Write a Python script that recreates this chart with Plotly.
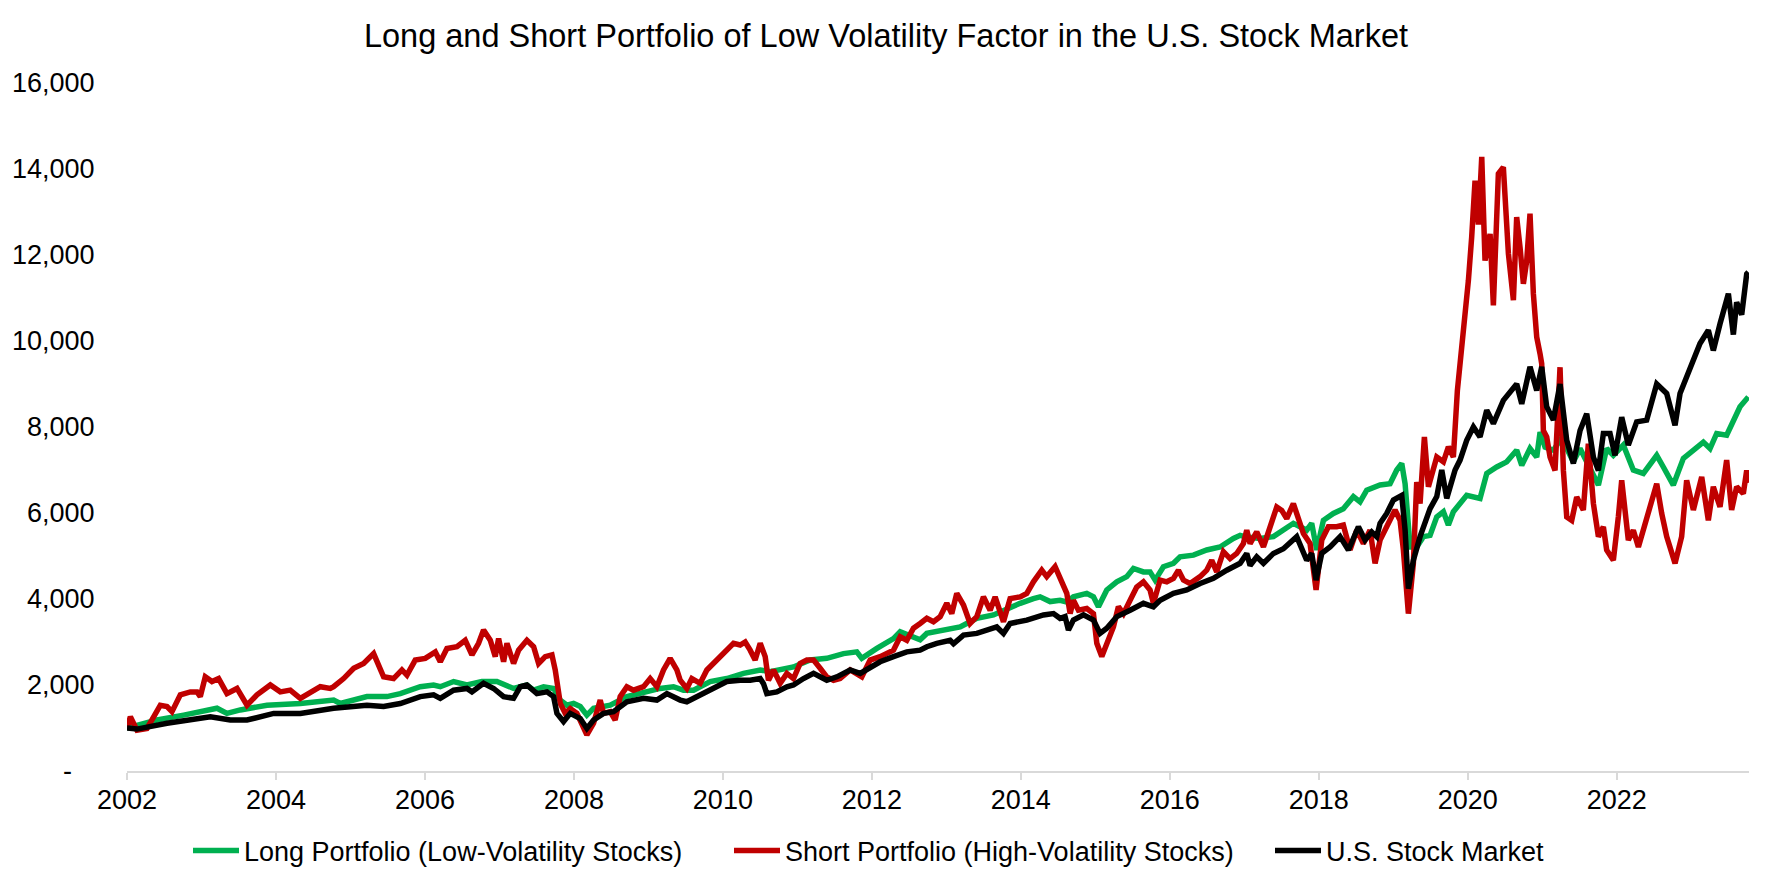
import plotly.graph_objects as go

# ---- data (x in decimal years, values of $1,000 invested) ----
long_x = [2002.000, 2002.403, 2002.761, 2003.208, 2003.342, 2003.521, 2003.879, 2004.327, 2004.774, 2004.864,
          2005.221, 2005.490, 2005.669, 2005.937, 2006.116, 2006.206, 2006.385, 2006.564, 2006.765, 2006.966,
          2007.190, 2007.369, 2007.459, 2007.593, 2007.727, 2007.817, 2007.906, 2007.996, 2008.085, 2008.174,
          2008.264, 2008.487, 2008.711, 2008.935, 2009.158, 2009.337, 2009.471, 2009.606, 2009.829, 2010.053,
          2010.277, 2010.501, 2010.635, 2010.948, 2011.172, 2011.395, 2011.619, 2011.798, 2011.865, 2012.067,
          2012.290, 2012.380, 2012.559, 2012.648, 2012.738, 2012.961, 2013.185, 2013.274, 2013.409, 2013.633,
          2013.722, 2013.856, 2013.991, 2014.169, 2014.259, 2014.393, 2014.527, 2014.617, 2014.706, 2014.885,
          2014.975, 2015.042, 2015.154, 2015.288, 2015.422, 2015.512, 2015.646, 2015.735, 2015.803, 2015.914,
          2016.049, 2016.138, 2016.317, 2016.496, 2016.675, 2016.854, 2016.944, 2017.033, 2017.212, 2017.391,
          2017.570, 2017.659, 2017.749, 2017.838, 2017.905, 2017.973, 2018.062, 2018.196, 2018.330, 2018.465,
          2018.554, 2018.644, 2018.823, 2018.957, 2019.047, 2019.114, 2019.159, 2019.226, 2019.315, 2019.405,
          2019.494, 2019.584, 2019.673, 2019.740, 2019.807, 2019.986, 2020.165, 2020.255, 2020.389, 2020.523,
          2020.657, 2020.725, 2020.836, 2020.926, 2020.971, 2021.038, 2021.150, 2021.239, 2021.329, 2021.418,
          2021.508, 2021.642, 2021.754, 2021.865, 2021.955, 2022.089, 2022.223, 2022.358, 2022.537, 2022.626,
          2022.760, 2022.895, 2023.029, 2023.163, 2023.253, 2023.342, 2023.476, 2023.566, 2023.655, 2023.767]
long_y = [1000, 1185, 1300, 1460, 1340, 1420, 1530, 1570, 1650, 1570,
          1730, 1730, 1800, 1960, 2000, 1960, 2080, 2000, 2080, 2080,
          1920, 2000, 1880, 1960, 1920, 1650, 1530, 1570, 1500, 1300,
          1460, 1530, 1730, 1840, 1920, 1960, 1880, 1880, 2080, 2150,
          2270, 2350, 2310, 2420, 2580, 2620, 2730, 2770, 2620, 2850,
          3080, 3240, 3120, 3050, 3200, 3280, 3350, 3430, 3550, 3630,
          3700, 3820, 3900, 4010, 4050, 3940, 3970, 3930, 4050, 4130,
          4050, 3820, 4210, 4400, 4520, 4710, 4630, 4630, 4440, 4750,
          4830, 4980, 5020, 5140, 5210, 5410, 5480, 5440, 5410, 5450,
          5640, 5760, 5680, 5600, 5760, 5140, 5830, 5990, 6100, 6380,
          6260, 6530, 6650, 6680, 7000, 7150, 6680, 5210, 5210, 5450,
          5480, 5910, 6030, 5720, 6030, 6410, 6340, 6920, 7070, 7190,
          7460, 7110, 7500, 7300, 7880, 7530, 7460, 7690, 7500, 7190,
          7500, 7000, 6650, 7500, 7340, 7580, 7000, 6920, 7340, 7070,
          6650, 7270, 7460, 7650, 7500, 7850, 7810, 8160, 8470, 8700]

short_x = [2002.000, 2002.045, 2002.134, 2002.268, 2002.358, 2002.447, 2002.537, 2002.604, 2002.716, 2002.850,
           2002.940, 2002.984, 2003.051, 2003.141, 2003.230, 2003.342, 2003.477, 2003.611, 2003.745, 2003.924,
           2004.058, 2004.192, 2004.327, 2004.461, 2004.595, 2004.729, 2004.774, 2004.908, 2005.043, 2005.177,
           2005.311, 2005.445, 2005.579, 2005.691, 2005.758, 2005.870, 2006.004, 2006.139, 2006.206, 2006.295,
           2006.430, 2006.541, 2006.631, 2006.720, 2006.787, 2006.877, 2006.944, 2006.989, 2007.056, 2007.101,
           2007.190, 2007.257, 2007.369, 2007.459, 2007.526, 2007.615, 2007.705, 2007.749, 2007.817, 2007.884,
           2007.951, 2008.040, 2008.130, 2008.174, 2008.264, 2008.353, 2008.398, 2008.487, 2008.554, 2008.621,
           2008.711, 2008.800, 2008.935, 2009.024, 2009.114, 2009.203, 2009.292, 2009.382, 2009.427, 2009.516,
           2009.583, 2009.695, 2009.785, 2009.919, 2010.053, 2010.143, 2010.232, 2010.299, 2010.366, 2010.433,
           2010.501, 2010.568, 2010.612, 2010.680, 2010.769, 2010.859, 2010.948, 2011.037, 2011.127, 2011.217,
           2011.306, 2011.395, 2011.485, 2011.574, 2011.709, 2011.798, 2011.865, 2011.977, 2012.111, 2012.290,
           2012.380, 2012.469, 2012.559, 2012.648, 2012.738, 2012.827, 2012.917, 2013.006, 2013.073, 2013.140,
           2013.230, 2013.319, 2013.409, 2013.498, 2013.588, 2013.655, 2013.767, 2013.856, 2013.991, 2014.080,
           2014.169, 2014.281, 2014.348, 2014.460, 2014.527, 2014.617, 2014.662, 2014.706, 2014.773, 2014.885,
           2014.975, 2015.020, 2015.087, 2015.154, 2015.243, 2015.310, 2015.378, 2015.467, 2015.556, 2015.646,
           2015.735, 2015.780, 2015.870, 2015.959, 2016.049, 2016.116, 2016.183, 2016.272, 2016.407, 2016.496,
           2016.563, 2016.630, 2016.720, 2016.809, 2016.899, 2016.988, 2017.033, 2017.078, 2017.167, 2017.257,
           2017.346, 2017.436, 2017.503, 2017.570, 2017.659, 2017.726, 2017.794, 2017.883, 2017.964, 2018.040,
           2018.129, 2018.241, 2018.330, 2018.420, 2018.510, 2018.599, 2018.688, 2018.756, 2018.823, 2018.935,
           2019.024, 2019.091, 2019.136, 2019.203, 2019.270, 2019.315, 2019.360, 2019.418, 2019.472, 2019.584,
           2019.673, 2019.740, 2019.807, 2019.861, 2019.897, 2019.942, 2020.009, 2020.053, 2020.098, 2020.143,
           2020.188, 2020.232, 2020.300, 2020.344, 2020.411, 2020.478, 2020.546, 2020.613, 2020.657, 2020.702,
           2020.747, 2020.792, 2020.836, 2020.881, 2020.926, 2020.971, 2020.993, 2021.015, 2021.060, 2021.105,
           2021.172, 2021.239, 2021.284, 2021.329, 2021.396, 2021.463, 2021.552, 2021.619, 2021.687, 2021.754,
           2021.821, 2021.865, 2021.955, 2022.022, 2022.067, 2022.156, 2022.223, 2022.291, 2022.380, 2022.447,
           2022.537, 2022.604, 2022.671, 2022.783, 2022.872, 2022.939, 2023.029, 2023.141, 2023.230, 2023.297,
           2023.387, 2023.476, 2023.543, 2023.610, 2023.700, 2023.745, 2023.767]
short_y = [1000, 1260, 950, 990, 1260, 1530, 1500, 1380, 1770, 1840,
           1840, 1730, 2190, 2080, 2150, 1800, 1920, 1530, 1770, 2000,
           1840, 1880, 1690, 1840, 1960, 1920, 1960, 2150, 2390, 2500,
           2730, 2190, 2150, 2350, 2230, 2580, 2620, 2770, 2540, 2850,
           2890, 3040, 2700, 2970, 3280, 3040, 2660, 3080, 2540, 2970,
           2500, 2810, 3040, 2890, 2500, 2660, 2700, 2350, 1570, 1340,
           1450, 1340, 950, 840, 1110, 1650, 1340, 1380, 1185, 1730,
           1960, 1880, 1960, 2150, 1960, 2350, 2620, 2350, 2110, 1920,
           2150, 2040, 2350, 2580, 2810, 2970, 2930, 3000, 2810, 2580,
           2970, 2660, 2110, 2350, 2040, 2270, 2150, 2500, 2580, 2580,
           2390, 2190, 2110, 2150, 2350, 2270, 2190, 2580, 2660, 2810,
           3120, 3040, 3320, 3430, 3550, 3470, 3590, 3900, 3660, 4130,
           3860, 3430, 3590, 4050, 3740, 4050, 3470, 4010, 4050, 4130,
           4400, 4670, 4520, 4750, 4480, 4130, 3660, 3970, 3740, 3780,
           3660, 2970, 2660, 2970, 3350, 3820, 3660, 3970, 4280, 4400,
           4210, 3900, 4440, 4400, 4480, 4670, 4440, 4360, 4520, 4670,
           4900, 4630, 5100, 4940, 5060, 5290, 5600, 5290, 5560, 5210,
           5680, 6140, 6060, 5870, 6220, 5830, 5520, 5290, 4210, 5370,
           5680, 5680, 5720, 5140, 5600, 5290, 5600, 4830, 5370, 5760,
           6070, 5830, 5140, 3660, 4830, 6720, 6220, 7770, 6610, 7300,
           7190, 7540, 7300, 8850, 9470, 10020, 11410, 12420, 13730, 12710,
           14280, 11870, 12490, 10830, 13890, 14040, 12030, 10950, 12880, 12180,
           11330, 11870, 12960, 11100, 10090, 9700, 9470, 7920, 7770, 7300,
           6990, 9390, 6990, 5910, 5830, 6370, 6070, 7610, 6220, 5450,
           5680, 5140, 4900, 5910, 6760, 5370, 5600, 5210, 5760, 6220,
           6680, 5990, 5450, 4830, 5450, 6760, 6070, 6840, 5830, 6610,
           6140, 7230, 6070, 6610, 6450, 6990, 6700]

mkt_x = [2002.000, 2002.134, 2002.537, 2002.984, 2003.119, 2003.387, 2003.611, 2003.969, 2004.327, 2004.774,
         2005.221, 2005.445, 2005.669, 2005.937, 2006.116, 2006.206, 2006.385, 2006.564, 2006.631, 2006.787,
         2006.922, 2007.056, 2007.190, 2007.280, 2007.369, 2007.503, 2007.638, 2007.727, 2007.772, 2007.861,
         2007.951, 2008.085, 2008.174, 2008.264, 2008.398, 2008.532, 2008.711, 2008.935, 2009.114, 2009.248,
         2009.337, 2009.427, 2009.516, 2009.650, 2009.829, 2010.053, 2010.232, 2010.366, 2010.501, 2010.545,
         2010.590, 2010.724, 2010.859, 2010.948, 2011.082, 2011.217, 2011.351, 2011.395, 2011.530, 2011.709,
         2011.843, 2011.977, 2012.111, 2012.290, 2012.469, 2012.648, 2012.738, 2012.872, 2013.051, 2013.096,
         2013.230, 2013.409, 2013.588, 2013.677, 2013.767, 2013.856, 2014.080, 2014.304, 2014.438, 2014.527,
         2014.594, 2014.639, 2014.706, 2014.841, 2014.975, 2015.064, 2015.154, 2015.288, 2015.467, 2015.646,
         2015.780, 2015.870, 2016.049, 2016.228, 2016.407, 2016.586, 2016.765, 2016.944, 2017.033, 2017.078,
         2017.167, 2017.257, 2017.391, 2017.525, 2017.704, 2017.771, 2017.838, 2017.905, 2017.964, 2018.040,
         2018.152, 2018.286, 2018.398, 2018.532, 2018.621, 2018.711, 2018.778, 2018.823, 2018.912, 2019.002,
         2019.114, 2019.159, 2019.203, 2019.270, 2019.360, 2019.494, 2019.584, 2019.651, 2019.718, 2019.830,
         2019.897, 2019.986, 2020.076, 2020.165, 2020.255, 2020.344, 2020.478, 2020.657, 2020.725, 2020.836,
         2020.926, 2020.993, 2021.060, 2021.150, 2021.239, 2021.329, 2021.418, 2021.508, 2021.597, 2021.687,
         2021.754, 2021.821, 2021.910, 2021.977, 2022.067, 2022.156, 2022.268, 2022.402, 2022.537, 2022.671,
         2022.783, 2022.850, 2022.984, 2023.118, 2023.230, 2023.275, 2023.297, 2023.387, 2023.499, 2023.566,
         2023.610, 2023.678, 2023.745, 2023.767]
mkt_y = [1000, 975, 1110, 1220, 1260, 1185, 1185, 1340, 1340, 1460,
         1530, 1500, 1570, 1730, 1770, 1690, 1880, 1920, 1840, 2040,
         1920, 1730, 1690, 1960, 2000, 1800, 1840, 1730, 1340, 1150,
         1340, 1220, 990, 1185, 1340, 1380, 1610, 1690, 1650, 1800,
         1720, 1650, 1610, 1730, 1880, 2080, 2110, 2110, 2150, 2030,
         1800, 1840, 1960, 2000, 2150, 2270, 2150, 2110, 2190, 2350,
         2270, 2420, 2540, 2660, 2770, 2810, 2890, 2970, 3040, 2960,
         3160, 3200, 3280, 3350, 3200, 3430, 3510, 3630, 3660, 3550,
         3590, 3280, 3510, 3630, 3510, 3200, 3320, 3590, 3740, 3900,
         3820, 3970, 4130, 4210, 4360, 4480, 4670, 4830, 5060, 4780,
         4980, 4830, 5060, 5170, 5450, 5140, 4900, 5060, 4440, 5060,
         5210, 5450, 5140, 5680, 5370, 5560, 5450, 5760, 5990, 6300,
         6410, 5600, 4240, 4900, 5450, 6100, 6380, 7000, 6340, 7000,
         7230, 7690, 8000, 7770, 8390, 8080, 8620, 9000, 8540, 9400,
         8850, 9400, 8470, 8160, 9000, 7690, 7150, 7920, 8310, 7300,
         6990, 7850, 7850, 7340, 8230, 7580, 8120, 8160, 9000, 8780,
         8040, 8780, 9400, 9940, 10250, 9830, 9780, 10400, 11100, 10150,
         10900, 10610, 11560, 11600]

year_ticks = [2002, 2004, 2006, 2008, 2010, 2012, 2014, 2016, 2018, 2020, 2022]
year_labels = [str(y) for y in year_ticks]
y_ticks = [0, 2000, 4000, 6000, 8000, 10000, 12000, 14000, 16000]
y_labels = ["-\u00a0\u00a0\u00a0", "2,000", "4,000", "6,000", "8,000", "10,000", "12,000", "14,000", "16,000"]

series = [
    ("Long Portfolio (Low-Volatility Stocks)", long_x, long_y, "#00B050"),
    ("Short Portfolio (High-Volatility Stocks)", short_x, short_y, "#C00000"),
    ("U.S. Stock Market", mkt_x, mkt_y, "#000000"),
]

FONT = "Liberation Sans, Arial, sans-serif"
W, H = 1772, 886

fig = go.Figure()
for name, xs, ys, col in series:
    fig.add_trace(go.Scatter(x=xs, y=ys, mode="lines", name=name,
                             line=dict(color=col, width=5.5)))

fig.update_layout(
    width=W, height=H,
    paper_bgcolor="white", plot_bgcolor="white",
    font=dict(family=FONT, size=27, color="#000000"),
    margin=dict(l=119, r=31, t=75, b=123, autoexpand=False),
    title=dict(text="Long and Short Portfolio of Low Volatility Factor in the U.S. Stock Market",
               x=878 / W, xanchor="center", y=1 - 28 / H, yanchor="middle",
               font=dict(family=FONT, size=32.5, color="#000000")),
    showlegend=True,
    legend=dict(orientation="h", xref="container", yref="container",
                x=180 / W, xanchor="left", y=1 - 843 / H, yanchor="middle",
                font=dict(family=FONT, size=27, color="#000000"),
                itemwidth=46,
                entrywidth=480, entrywidthmode="pixels",
                borderwidth=0, bgcolor="rgba(0,0,0,0)"),
    xaxis=dict(range=[2002, 2023.776], tickvals=year_ticks, ticktext=year_labels,
               showgrid=False, zeroline=False,
               showline=True, linecolor="#D9D9D9", linewidth=2,
               ticks="outside", ticklen=7, tickwidth=2, tickcolor="#D9D9D9",
               ticklabelstandoff=-3,
               tickfont=dict(family=FONT, size=27, color="#000000")),
    yaxis=dict(range=[0, 16000], tickvals=y_ticks, ticktext=y_labels,
               showgrid=False, zeroline=False, showline=False,
               ticks="outside", ticklen=26, tickcolor="rgba(0,0,0,0)",
               tickfont=dict(family=FONT, size=27, color="#000000")),
)

fig.write_html("out.html")
